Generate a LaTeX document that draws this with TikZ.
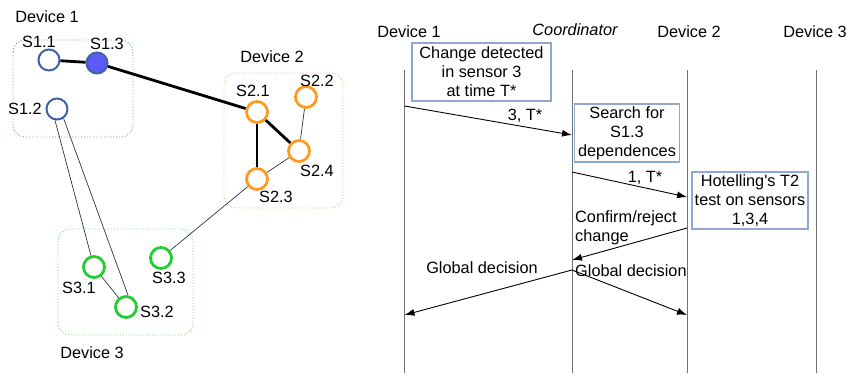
\documentclass[tikz,border=0pt]{standalone}
\usepackage{fontspec}
\setmainfont{Liberation Sans}[Ligatures=TeXOff]
\usetikzlibrary{arrows.meta}
\definecolor{devblue}{HTML}{3D63A6}
\definecolor{sfill}{HTML}{5A5AF5}
\definecolor{devorange}{HTML}{FF9A1E}
\definecolor{devgreen}{HTML}{22CC33}
\definecolor{boxblue}{HTML}{6C90C8}
\definecolor{boxorange}{HTML}{F2B060}
\definecolor{boxgreen}{HTML}{6CCF7A}
\definecolor{msgbox}{HTML}{8DA9D2}
\definecolor{life}{HTML}{707070}
\begin{document}
\begin{tikzpicture}[x=1pt,y=-1pt,
  every node/.style={font=\fontsize{16.3}{19}\selectfont, inner sep=0pt},
  sblue/.style={circle, draw=devblue, line width=2pt, minimum size=21pt, fill=white},
  shot/.style={sblue, fill=sfill},
  sorange/.style={circle, draw=devorange, line width=2.8pt, minimum size=21pt, fill=white},
  sgreen/.style={circle, draw=devgreen, line width=2.8pt, minimum size=21pt, fill=white},
  group/.style={rounded corners=12pt, dotted, line width=0.9pt},
  strong/.style={line width=2.8pt, black},
  weak/.style={line width=0.7pt, black!80},
  lifeline/.style={line width=1pt, life},
  msgbox/.style={draw=msgbox, line width=1.1pt, align=center, inner sep=0pt},
  msg/.style={line width=0.9pt, black, -{Latex[length=10pt,width=7pt]}}
]
\useasboundingbox (0,0) rectangle (855,373);

% ---------------- sensor graph ----------------
\draw[group, draw=boxblue]   (13,40)  rectangle (133,137);
\draw[group, draw=boxorange] (224,73) rectangle (343,208);
\draw[group, draw=boxgreen]  (58,229) rectangle (193,335);

\node (g1) at (47,17)  {Device 1};
\node (g2) at (272,57) {Device 2};
\node (g3) at (92,353) {Device 3};

\node[sblue]   (s11) at (49,60)  {};
\node[shot]    (s13) at (97,63)  {};
\node[sblue]   (s12) at (57,109) {};
\node[sorange] (s21) at (257,112) {};
\node[sorange] (s22) at (306,97)  {};
\node[sorange] (s24) at (299,151) {};
\node[sorange] (s23) at (257,179) {};
\node[sgreen]  (s31) at (94,267)  {};
\node[sgreen]  (s32) at (126,307) {};
\node[sgreen]  (s33) at (161,258) {};

\node (l11) at (39,42)   {S1.1};
\node (l13) at (107,44)  {S1.3};
\node (l12) at (25,109)  {S1.2};
\node (l21) at (253,91)  {S2.1};
\node (l22) at (317,81)  {S2.2};
\node (l24) at (317,171) {S2.4};
\node (l23) at (276,197) {S2.3};
\node (l31) at (79,288)  {S3.1};
\node (l32) at (157,312) {S3.2};
\node (l33) at (169,278) {S3.3};

\draw[strong] (s11) -- (s13);
\draw[strong] (s13) -- (s21);
\draw[strong] (s21) -- (s23);
\draw[strong] (s21) -- (s24);
\draw[weak] (s22) -- (s24);
\draw[weak] (s24) -- (s23);
\draw[weak] (s23) -- (s33);
\draw[weak] (s12.-100) -- (s31.105);
\draw[weak] (s12.-55) -- (s32.80);
\draw[weak] (s31) -- (s32);

% ---------------- message sequence ----------------
\node (h1) at (409,32) {Device 1};
\node[font=\fontsize{16.3}{19}\selectfont\itshape] (hc) at (575,30) {Coordinator};
\node (h2) at (689,32) {Device 2};
\node (h3) at (815,32) {Device 3};

\coordinate (d1t) at (404.5,70); \coordinate (d1b) at (404.5,373);
\coordinate (cot) at (572,70);   \coordinate (cob) at (572,373);
\coordinate (d2t) at (687,70);   \coordinate (d2b) at (687,373);
\coordinate (d3t) at (816,70);   \coordinate (d3b) at (816,373);
\draw[lifeline] (d1t) -- (d1b);
\draw[lifeline] (cot) -- (cob);
\draw[lifeline] (d2t) -- (d2b);
\draw[lifeline] (d3t) -- (d3b);

\node[msgbox, minimum width=139pt, minimum height=58pt, fill=white] (b1) at (481.5,72)
  {Change detected\\in sensor 3\\at time T*};
\node[msgbox, minimum width=105pt, minimum height=58pt, fill=white] (b2) at (627,133)
  {Search for\\S1.3\\dependences};
\node[msgbox, minimum width=116pt, minimum height=57pt, fill=white] (b3) at (750,200.5)
  {Hotelling's T2\\test on sensors\\1,3,4};

\coordinate (m1s) at (404.5,106); \coordinate (m1e) at (572,135);
\coordinate (m2s) at (572,172);   \coordinate (m2e) at (687,197);
\coordinate (m3s) at (687,228);   \coordinate (m3e) at (572,260);
\coordinate (m4s) at (572,270);   \coordinate (m4e) at (404.5,315);
\coordinate (m5e) at (687,315);

\draw[msg] (m1s) -- (m1e);
\draw[msg] (m2s) -- (m2e);
\draw[msg] (m3s) -- (m3e);
\draw[msg] (m4s) -- (m4e);
\draw[msg] (m4s) -- (m5e);

\node (t1) at (525,116) {3, T*};
\node (t2) at (645,178) {1, T*};
\node[align=left, anchor=west] (t3) at (575,228) {Confirm/reject\\change};
\node (t4) at (482,268) {Global decision};
\node[anchor=west] (t5) at (575,271) {Global decision};
\end{tikzpicture}
\end{document}
